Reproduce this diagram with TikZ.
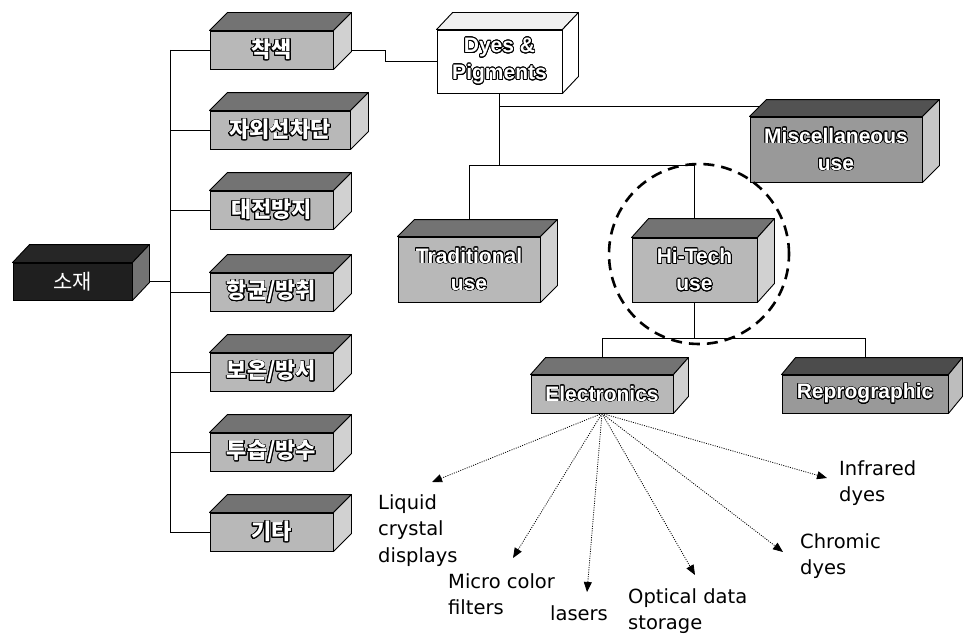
\documentclass[tikz,border=0pt]{standalone}
\usepackage{fontspec}
\setmainfont{DejaVu Sans}
\newfontfamily\boxfont{Liberation Sans}
\newfontfamily\kr{Noto Sans CJK KR}
\usepackage{contour}
\contourlength{0.8pt}
\contournumber{24}
\usetikzlibrary{calc,arrows.meta}
\pgfdeclarelayer{bg}
\pgfsetlayers{bg,main}
\newcommand\ol[1]{\contour{black}{#1}}
% faces of a cuboid: node, dx, dy, top style, side style
\newcommand\cubefaces[5]{%
  \path[#4,draw=black,line width=0.9pt,line join=round] (#1.north west) -- ($(#1.north west)+(#2,-#3)$) -- ($(#1.north east)+(#2,-#3)$) -- (#1.north east) -- cycle;
  \path[#5,draw=black,line width=0.9pt,line join=round] (#1.north east) -- ($(#1.north east)+(#2,-#3)$) -- ($(#1.south east)+(#2,-#3)$) -- (#1.south east) -- cycle;}
\tikzset{
  bx/.style={draw=black, line width=0.9pt, inner sep=0pt, text=white, align=center,
    font=\boxfont\bfseries\fontsize{21}{27}\selectfont},
  krbox/.style={bx, fill=black!28, font=\kr\bfseries\fontsize{22}{26}\selectfont,
    minimum width=123pt, minimum height=38pt},
  lightbox/.style={bx, fill=black!28},
  darkbox/.style={bx, fill=black!40},
  conn/.style={draw=black, line width=0.8pt},
  fanarrow/.style={dash pattern=on 1pt off 1.3pt, line width=0.8pt, -{Triangle[length=10pt,width=8pt]}},
  lbl/.style={anchor=north west, inner sep=0pt, align=left, font=\fontsize{19.5}{26.5}\selectfont},
}
\begin{document}
\begin{tikzpicture}[x=1pt,y=-1pt]
\useasboundingbox (0,0) rectangle (963,634);
% category boxes
\node[krbox] (c1) at (271.5,50) {\ol{착색}};
\node[krbox, minimum width=140pt] (c2) at (280,130) {\ol{자외선차단}};
\node[krbox] (c3) at (271.5,210) {\ol{대전방지}};
\node[krbox] (c4) at (271.5,292) {\ol{항균/방취}};
\node[krbox] (c5) at (271.5,372) {\ol{보온/방서}};
\node[krbox] (c6) at (271.5,452) {\ol{투습/방수}};
\node[krbox] (c7) at (271.5,532) {\ol{기타}};
\foreach \n in {c1,c2,c3,c4,c5,c6,c7} {\cubefaces{\n}{18}{18}{fill=black!55}{fill=black!18}}
% material
\node[bx, fill=black!88, minimum width=119pt, minimum height=37pt,
  font=\kr\fontsize{21}{24}\selectfont] (mat) at (72.5,281.5) {소재};
\cubefaces{mat}{17}{18}{fill=black!85}{fill=black!55}
% dyes & pigments
\node[bx, fill=white, minimum width=125pt, minimum height=63pt] (dp) at (499.5,61.5)
  {\ol{Dyes \&}\\\ol{Pigments}};
\cubefaces{dp}{16}{17}{fill=black!6}{fill=white}
% uses
\node[lightbox, minimum width=142pt, minimum height=65pt] (trad) at (469,269.5)
  {\ol{Traditional}\\\ol{use}};
\cubefaces{trad}{17}{17}{fill=black!55}{fill=black!18}
\node[lightbox, minimum width=125pt, minimum height=64pt] (hitech) at (694.5,270)
  {\ol{Hi-Tech}\\\ol{use}};
\cubefaces{hitech}{17}{19}{fill=black!55}{fill=black!18}
\node[darkbox, minimum width=172pt, minimum height=65pt] (misc) at (836,149.5)
  {\ol{Miscellaneous}\\\ol{use}};
\cubefaces{misc}{17}{17}{fill=black!68}{fill=black!22}
\node[lightbox, minimum width=142pt, minimum height=38pt] (elec) at (602,394)
  {\ol{Electronics}};
\cubefaces{elec}{15}{17}{fill=black!55}{fill=black!18}
\node[darkbox, minimum width=166pt, minimum height=38pt] (repro) at (865,394)
  {\ol{Reprographic}};
\cubefaces{repro}{14}{17}{fill=black!70}{fill=black!26}
% highlight ring
\node[draw=black, circle, dash pattern=on 11pt off 7pt, line width=2.6pt,
  minimum size=180pt, inner sep=0pt] (ring) at (699,254) {};
% labels
\node[lbl] (lLCD) at (378,494) {Liquid\\crystal\\displays};
\node[lbl] (lMCF) at (448,573) {Micro color\\filters};
\node[lbl] (lLas) at (550,605) {lasers};
\node[lbl] (lODS) at (628,588) {Optical data\\storage};
\node[lbl] (lChr) at (800,533) {Chromic\\dyes};
\node[lbl] (lIR) at (839,460) {Infrared\\dyes};
% coordinates
\coordinate (trunk) at (170,0);
\coordinate (j1) at (499.5,106);
\coordinate (j2) at (499.5,165);
\coordinate (j3) at (694.5,338);
\coordinate (tLCD) at (432,482);
\coordinate (tMCF) at (513,558);
\coordinate (tLas) at (587,592);
\coordinate (tODS) at (695,575);
\coordinate (tChr) at (783,552);
\coordinate (tIR) at (827,478);
% arrows
\foreach \t in {tLCD,tMCF,tLas,tODS,tChr,tIR} {\draw[fanarrow] (elec.south) -- (\t);}
% connectors behind boxes
\begin{pgfonlayer}{bg}
\fill[white] (0,0) rectangle (963,634);
\draw[conn] (c1.west -| trunk) -- (c7.west -| trunk);
\foreach \n in {c1,c2,c3,c4,c5,c6,c7} {\draw[conn] (\n.west) -- (\n.west -| trunk);}
\draw[conn] (mat.east) -- (mat.east -| trunk);
\draw[conn] (c1.east) -- ++(52,0) |- (dp.west);
\draw[conn] (dp.south) -- (j2);
\draw[conn] (j1) -- (j1 -| misc.north);
\draw[conn] (trad.north) -- (trad.north |- j2) -- (hitech.north |- j2) -- (hitech.north);
\draw[conn] (hitech.south) -- (j3);
\draw[conn] (elec.north) -- (elec.north |- j3) -- (repro.north |- j3) -- (repro.north);
\end{pgfonlayer}
\end{tikzpicture}
\end{document}
